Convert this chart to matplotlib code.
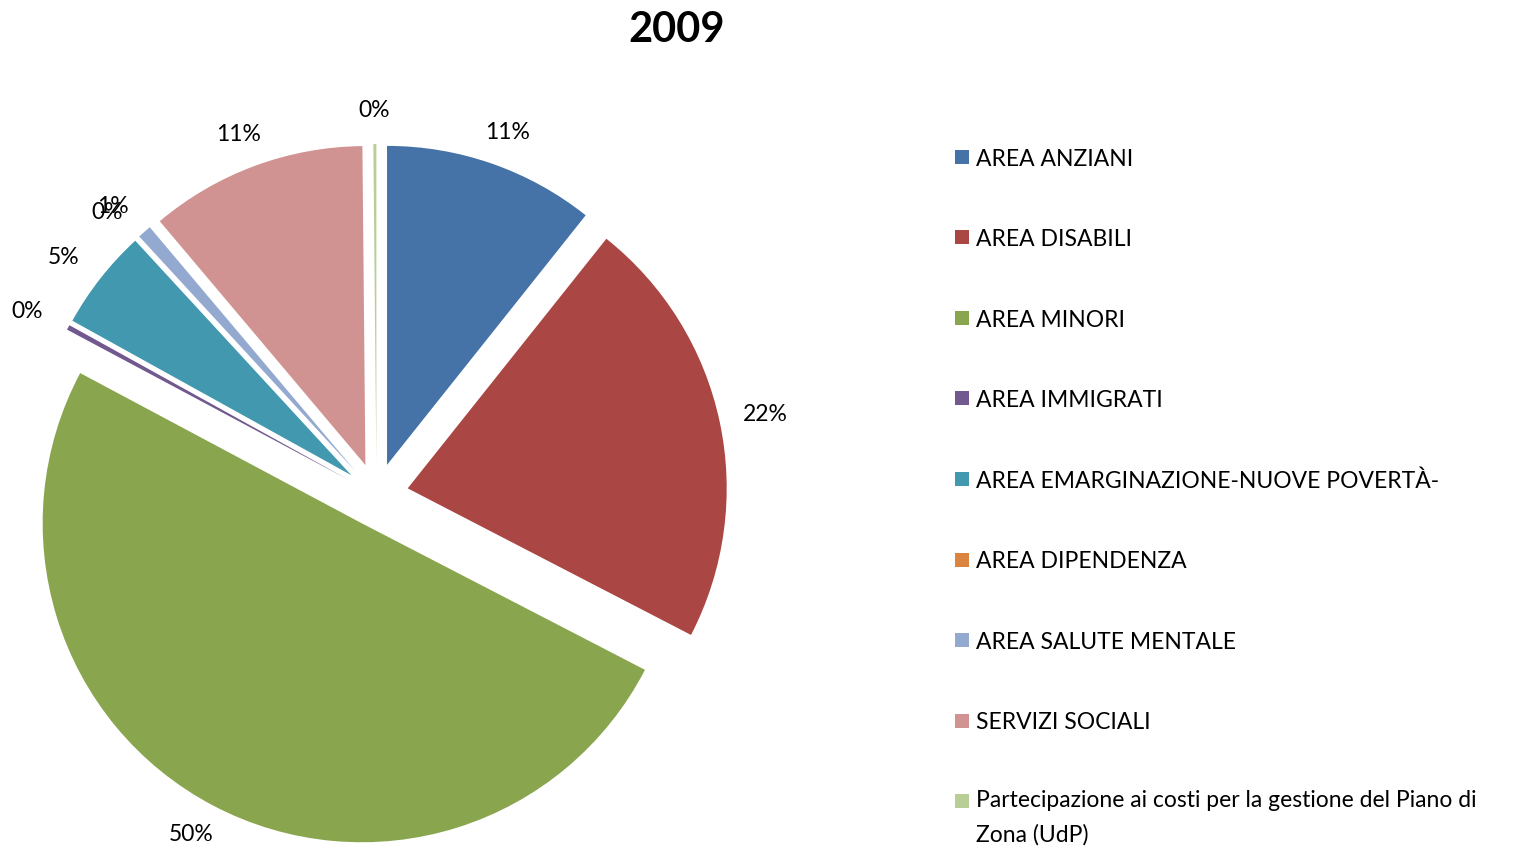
import numpy as np
import matplotlib
matplotlib.use("Agg")
import matplotlib.pyplot as plt
from matplotlib.patches import Rectangle

plt.rcParams['font.family'] = ['Lato', 'DejaVu Sans']

title = "2009"
categories = [
    "AREA ANZIANI",
    "AREA DISABILI",
    "AREA MINORI",
    "AREA IMMIGRATI",
    "AREA EMARGINAZIONE-NUOVE POVERTÀ-",
    "AREA DIPENDENZA",
    "AREA SALUTE MENTALE",
    "SERVIZI SOCIALI",
    "Partecipazione ai costi per la gestione del Piano di\nZona (UdP)",
]
values = [10.7, 21.9, 50.2, 0.25, 5.1, 0.0, 0.7, 11.0, 0.15]
colors = ["#4572A7", "#AA4643", "#89A54E", "#71588F", "#4198AF",
          "#DB843D", "#93A9CF", "#D19392", "#B9CD96"]

W, H = 1520, 847
fig = plt.figure(figsize=(W / 100, H / 100), dpi=100)

R = 319.0          # pie radius in pixels
cx, cy = 376.5, 495.0  # pie centre (pixels from top-left)
ax = fig.add_axes([0, 0, 2 * cx / W, 2 * (H - cy) / H])
wedges, _ = ax.pie(values, colors=colors, startangle=90, counterclock=False,
                   explode=[0.1] * len(values), radius=1.0)
ax.set_aspect('auto')
ax.set_xlim(-cx / R, cx / R)
ax.set_ylim(-(H - cy) / R, (H - cy) / R)
ax.axis('off')

total = sum(values)
fs = 16.5
for w, v in zip(wedges, values):
    th = np.deg2rad((w.theta1 + w.theta2) / 2)
    ex, ey = w.center
    px = ex + 1.06 * np.cos(th)
    py = ey + 1.06 * np.sin(th)
    ax.annotate(f"{round(v / total * 100):.0f}%", xy=(px, py),
                xytext=(28 * np.cos(th), 14 * np.sin(th)),
                textcoords='offset pixels', ha='center', va='center',
                fontsize=fs, color='black', annotation_clip=False)

fig.text(677 / W, 1 - 30 / H, title, ha='center', va='center',
         fontsize=30, fontweight='bold')

# legend
for i, (lab, c) in enumerate(zip(categories, colors)):
    yc = 157 + i * 80.5
    fig.patches.append(Rectangle((955 / W, 1 - (yc + 7) / H), 14 / W, 14 / H,
                                 transform=fig.transFigure, facecolor=c,
                                 edgecolor='none'))
    nlines = lab.count("\n")
    fig.text(976 / W, 1 - (yc + 8.5 + 32 * nlines) / H, lab, ha='left',
             va='baseline', fontsize=fs, linespacing=1.73)

fig.savefig("out.png", dpi=100)
